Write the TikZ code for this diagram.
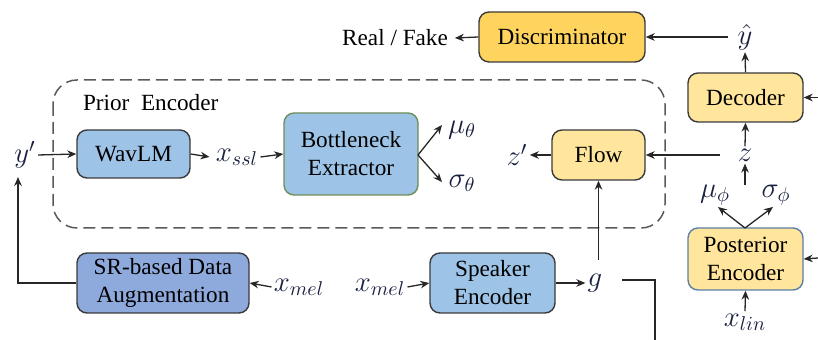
\documentclass[tikz,border=0pt]{standalone}
\usepackage{fontspec}
\setmainfont{Liberation Serif}
\usetikzlibrary{arrows.meta}
\definecolor{gold}{HTML}{FFD45E}
\definecolor{lgold}{HTML}{FFE69C}
\definecolor{lblue}{HTML}{9DC3E6}
\definecolor{dblue}{HTML}{8EA9DB}
\definecolor{bordr}{HTML}{3A3A3A}
\definecolor{gborder}{HTML}{6E8E5A}
\definecolor{bborder}{HTML}{5B7FA6}
\definecolor{mathc}{HTML}{18203F}
\tikzset{
  box/.style={draw=bordr, line width=0.7pt, rounded corners=5pt, align=center,
    inner sep=0pt, font=\rmfamily\fontsize{11.6}{14}\selectfont},
  lab/.style={inner sep=1pt, text=mathc, font=\fontsize{14}{16}\selectfont},
  arr/.style={line width=0.65pt, draw=black!85, -{Stealth[length=4.5pt,width=3.8pt]}},
  ln/.style={line width=0.65pt, draw=black!85},
}
\begin{document}
\begin{tikzpicture}[x=0.5pt,y=-0.5pt]
\useasboundingbox (0,0) rectangle (818,340);
% dashed prior encoder region
\draw[draw=black!65, line width=0.75pt, dash pattern=on 6pt off 3pt, rounded corners=12pt] (53,80) rectangle (665,228);
\node[font=\rmfamily\fontsize{11.6}{14}\selectfont, anchor=west] (prior) at (76,103) {Prior\ \ Encoder};

% boxes
\node[box, fill=gold, minimum width=83pt, minimum height=25pt] (disc) at (562,37) {Discriminator};
\node[box, fill=lgold, minimum width=57.5pt, minimum height=24.5pt] (dec) at (745.5,97.5) {Decoder};
\node[box, fill=lgold, minimum width=46.5pt, minimum height=25pt] (flow) at (598.5,155) {Flow};
\node[box, fill=lblue, minimum width=56.5pt, minimum height=24pt] (wav) at (133.5,154) {WavLM};
\node[box, draw=gborder, fill=lblue, minimum width=67pt, minimum height=41pt] (bott) at (351,154) {Bottleneck\\Extractor};
\node[box, fill=lblue, minimum width=62.5pt, minimum height=30pt] (spk) at (492.5,283) {Speaker\\Encoder};
\node[box, fill=dblue, minimum width=86pt, minimum height=30pt] (sr) at (163,283) {SR-based Data\\Augmentation};
\node[box, draw=bborder, fill=lgold, minimum width=57.5pt, minimum height=31pt] (post) at (745.5,259) {Posterior\\Encoder};

% labels
\node[font=\rmfamily\fontsize{11.6}{14}\selectfont] (real) at (395,38) {Real / Fake};
\node[lab] (yhat) at (745,37) {$\hat{y}$};
\node[lab] (yp) at (25,155) {$y'$};
\node[lab] (xssl) at (237,157) {$x_{ssl}$};
\node[lab] (mut) at (462,130) {$\mu_\theta$};
\node[lab] (sigt) at (462,183) {$\sigma_\theta$};
\node[lab] (zp) at (517,155) {$z'$};
\node[lab] (z) at (745,155) {$z$};
\node[lab] (mup) at (715,195) {$\mu_\phi$};
\node[lab] (sigp) at (776,195) {$\sigma_\phi$};
\node[lab] (xlin) at (745,322) {$x_{lin}$};
\node[lab] (xmela) at (299,287) {$x_{mel}$};
\node[lab] (xmelb) at (380,287) {$x_{mel}$};
\node[lab] (g) at (595,283) {$g$};

% coordinates
\coordinate (rdec) at (818,97.5);
\coordinate (rpost) at (818,258);
\coordinate (bfork) at (418,155);
\coordinate (mutip) at (442,125);
\coordinate (sigtip) at (442,182);
\coordinate (pfork) at (745,228);
\coordinate (muptip) at (718,207);
\coordinate (sigptip) at (773,207);
\coordinate (zlow) at (745,185);
\coordinate (zleft) at (720,155);
\coordinate (yhatleft) at (728,37);
\coordinate (srcorner) at (18,283);
\coordinate (yptip) at (18,177);
\coordinate (gtop) at (598.5,260);
\coordinate (gstart) at (622,280);
\coordinate (gcorner) at (655,280);
\coordinate (gend) at (655,340);

% connectors
\draw[arr] (disc.west) -- (real.east);
\draw[arr] (yhatleft) -- (disc.east);
\draw[arr] (dec.north) -- (yhat.south);
\draw[arr] (rdec) -- (dec.east);
\draw[arr] (z.north) -- (dec.south);
\draw[arr] (zlow) -- (z.south);
\draw[arr] (zleft) -- (flow.east);
\draw[arr] (flow.west) -- (zp.east);
\draw[arr] (yp.east) -- (wav.west);
\draw[arr] (wav.east) -- ([xshift=-2pt]xssl.west);
\draw[arr] (xssl.east) -- (bott.west);
\draw[arr] (bfork) -- (mutip);
\draw[arr] (bfork) -- (sigtip);
\draw[arr] (pfork) -- (muptip);
\draw[arr] (pfork) -- (sigptip);
\draw[arr] (xlin.north) -- (post.south);
\draw[arr] (rpost) -- (post.east);
\draw[arr] (xmelb.east) -- (spk.west);
\draw[arr] (spk.east) -- (g.west);
\draw[arr] (xmela.west) -- (sr.east);
\draw[arr] (sr.west) -- (srcorner) -- (yptip);
\draw[arr] (gtop) -- (flow.south);
\draw[ln] (gstart) -- (gcorner) -- (gend);
\end{tikzpicture}
\end{document}
